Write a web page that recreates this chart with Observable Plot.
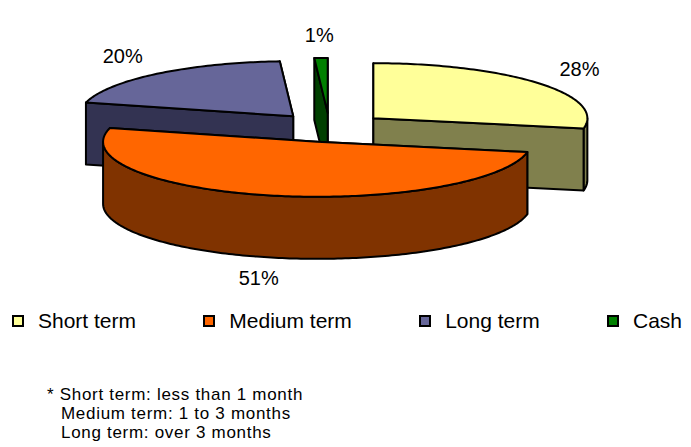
<!DOCTYPE html>
<html>
<head>
<meta charset="utf-8">
<script src="https://cdn.jsdelivr.net/npm/d3@7"></script>
<script src="https://cdn.jsdelivr.net/npm/@observablehq/plot@0.6"></script>
<style>
  body { margin: 0; background: #fff; font-family: "Liberation Sans", Arial, sans-serif; color: #000; }
  #wrap { position: relative; width: 691px; height: 447px; overflow: hidden; }
  #chart { position: absolute; left: 0; top: 0; }
  #legend { position: absolute; left: 12px; right: 9px; top: 309px; height: 24px;
            display: flex; justify-content: space-between; align-items: center; font-size: 21px; }
  .item { display: flex; align-items: center; white-space: nowrap; }
  .sw { width: 8px; height: 8px; border: 2px solid #000; margin-right: 14px; }
  #notes { position: absolute; left: 47px; top: 385px; font-size: 17px; letter-spacing: 0.7px;
           line-height: 19px; white-space: nowrap; }
  #notes div + div { margin-left: 14px; }
</style>
</head>
<body>
<div id="wrap">
  <div id="chart"></div>
  <div id="legend"></div>
  <div id="notes"></div>
</div>
<script>
// Portfolio split by term
const categories = ["Short term", "Medium term", "Long term", "Cash"];
const shares = [28, 51, 20, 1];
const topColors = ["#FFFF99", "#FF6600", "#666699", "#008000"];
const sideColors = ["#80804D", "#803300", "#333352", "#004000"];
const notes = [
  "* Short term: less than 1 month",
  "Medium term: 1 to 3 months",
  "Long term: over 3 months"
];

// 3D pie geometry, in units of the pie radius
const TILT = 0.257;     // vertical squash of the pie's disc
const DEPTH = 0.29;     // thickness of the pie
const EXPLODE = 0.266;  // distance each slice is pulled out
const rad = (d) => (d * Math.PI) / 180;

let acc = 0;
const total = d3.sum(shares);
const slices = shares.map((v, i) => {
  const s = (acc / total) * 360;
  acc += v;
  const e = (acc / total) * 360;
  const b = (s + e) / 2;
  return {
    i, name: categories[i], value: v, s, e, b,
    ox: EXPLODE * Math.sin(rad(b)),
    oy: EXPLODE * Math.cos(rad(b))
  };
});

// project a point of a slice (angle in degrees, r in [0,1], z 0 = top, 1 = bottom)
function proj(sl, theta, r, z) {
  const X = sl.ox + r * Math.sin(rad(theta));
  const Y = sl.oy + r * Math.cos(rad(theta));
  return [X, -Y * TILT + z * DEPTH];
}
function arc(sl, a, b, z) {
  const n = Math.max(2, Math.ceil(Math.abs(b - a)) + 1);
  return d3.range(n).map((k) => proj(sl, a + ((b - a) * k) / (n - 1), 1, z));
}

// faces drawn back to front
const faces = [];
const order = slices.slice().sort((p, q) => Math.cos(rad(q.b)) - Math.cos(rad(p.b)));
for (const sl of order) {
  const radial = (theta) => [proj(sl, theta, 0, 0), proj(sl, theta, 1, 0), proj(sl, theta, 1, 1), proj(sl, theta, 0, 1)];
  const startFront = Math.sin(rad(sl.s)) < -1e-9;
  const endFront = Math.sin(rad(sl.e)) > 1e-9;
  const back = [], front = [];
  (startFront ? front : back).push(radial(sl.s));
  (endFront ? front : back).push(radial(sl.e));
  for (const f of back) faces.push({ pts: f, fill: sideColors[sl.i] });
  // outer wall, visible where it faces the viewer (90° to 270°)
  const a = Math.max(sl.s, 90), b = Math.min(sl.e, 270);
  if (b > a) {
    faces.push({ pts: [...arc(sl, a, b, 0), ...arc(sl, b, a, 1)], fill: sideColors[sl.i] });
  }
  for (const f of front) faces.push({ pts: f, fill: sideColors[sl.i] });
  // top
  faces.push({ pts: [proj(sl, 0, 0, 0), ...arc(sl, sl.s, sl.e, 0)], fill: topColors[sl.i] });
}
const rows = faces.flatMap((f, id) =>
  [...f.pts, f.pts[0]].map(([x, y]) => ({ id, x, y, fill: f.fill }))
);

// value labels just outside each slice
const labels = slices.map((sl) => {
  const front = Math.cos(rad(sl.b)) < 0;
  return {
    text: sl.value + "%",
    x: sl.ox + 1.25 * Math.sin(rad(sl.b)),
    y: -(sl.oy + 1.4 * Math.cos(rad(sl.b))) * TILT + (front ? DEPTH : 0)
  };
});

const R = 214, CX = 329, CY = 127;
const chart = Plot.plot({
  width: 691,
  height: 300,
  margin: 0,
  x: { domain: [-1, 1], range: [CX - R, CX + R], axis: null },
  y: { domain: [-1, 1], range: [CY - R, CY + R], axis: null },
  color: { type: "identity" },
  style: { background: "transparent", overflow: "visible" },
  marks: [
    Plot.line(rows, {
      x: "x", y: "y", z: "id", fill: "fill",
      stroke: "#000", strokeWidth: 2, strokeLinejoin: "round", curve: "linear"
    }),
    Plot.text(labels, {
      x: "x", y: "y", text: "text", fontSize: 20,
      fontFamily: "Liberation Sans, Arial, sans-serif", fill: "#000"
    })
  ]
});
document.getElementById("chart").append(chart);

// legend
const legend = d3.select("#legend");
categories.forEach((c, i) => {
  const it = legend.append("div").attr("class", "item");
  it.append("div").attr("class", "sw").style("background", topColors[i]);
  it.append("span").text(c);
});

// footnote
d3.select("#notes").selectAll("div").data(notes).join("div").text((d) => d);
</script>
</body>
</html>
